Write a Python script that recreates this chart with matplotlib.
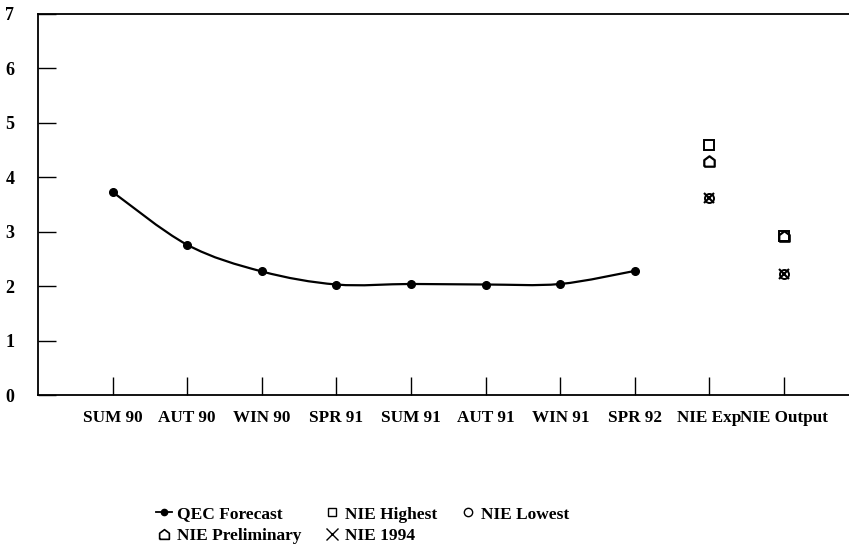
import matplotlib.pyplot as plt
from matplotlib.path import Path
from matplotlib.patches import PathPatch
from matplotlib.lines import Line2D

plt.rcParams['font.family'] = ['Liberation Serif', 'DejaVu Serif']
plt.rcParams['font.weight'] = 'bold'

categories = ['SUM 90', 'AUT 90', 'WIN 90', 'SPR 91', 'SUM 91', 'AUT 91',
              'WIN 91', 'SPR 92', 'NIE Exp', 'NIE Output']
qec_forecast = [3.73, 2.76, 2.27, 2.03, 2.04, 2.03, 2.04, 2.28]
nie_cats = ['NIE Exp', 'NIE Output']
nie_highest = [4.6, 2.92]
nie_lowest = [3.62, 2.22]
nie_preliminary = [4.3, 2.92]
nie_1994 = [3.62, 2.22]
y_ticks = [0, 1, 2, 3, 4, 5, 6, 7]


def smooth_path(xs, ys):
    # catmull-rom style bezier segments, like a spreadsheet "smoothed line"
    pts = list(zip(xs, ys))
    verts = [pts[0]]
    codes = [Path.MOVETO]
    n = len(pts)
    for i in range(n - 1):
        p0 = pts[max(i - 1, 0)]
        p1 = pts[i]
        p2 = pts[i + 1]
        p3 = pts[min(i + 2, n - 1)]
        c1 = (p1[0] + (p2[0] - p0[0]) / 6, p1[1] + (p2[1] - p0[1]) / 6)
        c2 = (p2[0] - (p3[0] - p1[0]) / 6, p2[1] - (p3[1] - p1[1]) / 6)
        verts += [c1, c2, p2]
        codes += [Path.CURVE4] * 3
    return Path(verts, codes)


house = [(-1, -1), (1, -1), (1, 0.25), (0, 1), (-1, 0.25), (-1, -1)]

fig = plt.figure(figsize=(8.49, 5.44), dpi=100)
ax = fig.add_axes([38 / 849, 1 - 395 / 544, 1 - 38 / 849, 381 / 544])

xq = list(range(len(qec_forecast)))
ax.add_patch(PathPatch(smooth_path(xq, qec_forecast), fill=False,
                       edgecolor='black', linewidth=1.6))
ax.plot(xq, qec_forecast, 'o', color='black', markersize=5.5)

xn = [categories.index(c) for c in nie_cats]
ax.plot(xn, nie_highest, 's', mfc='none', mec='black', markersize=6.5, mew=1.4)
ax.plot(xn, nie_lowest, 'o', mfc='none', mec='black', markersize=6.5, mew=1.4)
ax.plot(xn, nie_preliminary, marker=house, ls='none', mfc='none', mec='black',
        markersize=7.5, mew=1.6)
ax.plot(xn, nie_1994, 'x', color='black', markersize=7, mew=1.5)

ax.set_xlim(-1, 9.87)
ax.set_ylim(0, 7)
ax.set_xticks(range(len(categories)))
ax.set_xticklabels(categories, fontsize=12.3, fontweight='bold')
ax.set_yticks(y_ticks)
ax.set_yticklabels([str(v) for v in y_ticks], fontsize=13, fontweight='bold')
ax.tick_params(axis='x', direction='in', length=13, width=1, pad=11)
ax.tick_params(axis='y', direction='in', length=13, width=1, pad=17)
ax.spines['right'].set_visible(False)
for s in ['left', 'top', 'bottom']:
    ax.spines[s].set_linewidth(1.3)

handles = [
    Line2D([], [], color='black', marker='o', markersize=4.5, lw=1.3),
    Line2D([], [], ls='none', marker=house, mfc='none', mec='black', markersize=7, mew=1.2),
    Line2D([], [], ls='none', marker='s', mfc='none', mec='black', markersize=6, mew=1),
    Line2D([], [], ls='none', marker='x', color='black', markersize=8, mew=1),
    Line2D([], [], ls='none', marker='o', mfc='none', mec='black', markersize=6, mew=1),
]
labels = ['QEC Forecast', 'NIE Preliminary', 'NIE Highest', 'NIE 1994', 'NIE Lowest']
fig.legend(handles, labels, loc='upper left', bbox_to_anchor=(146 / 849, 1 - 496 / 544),
           ncol=3, frameon=False, handlelength=0.9, handletextpad=0.3,
           columnspacing=1.3, labelspacing=0.32, borderpad=0.1,
           prop={'size': 12.5, 'weight': 'bold'})

fig.savefig('out.png', dpi=100)
